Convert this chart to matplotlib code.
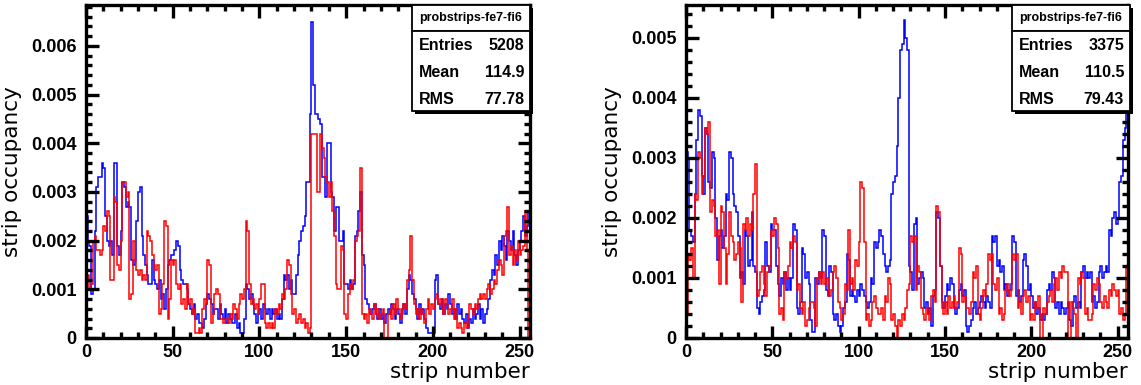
import numpy as np
import matplotlib
matplotlib.use('Agg')
import matplotlib.pyplot as plt
from matplotlib.patches import Rectangle
from matplotlib.ticker import MultipleLocator, FuncFormatter

# occupancy per strip, in units of 1e-4 (256 strips)
left_blue = [
    25, 20, 19, 9, 10, 22, 31, 33, 33, 36, 35, 25, 20, 19, 20, 17,
    36, 36, 19, 17, 22, 32, 31, 27, 28, 27, 16, 15, 16, 24, 30, 31,
    21, 17, 15, 13, 11, 11, 16, 12, 11, 10, 12, 8, 9, 6, 10, 15,
    16, 17, 17, 18, 20, 19, 14, 12, 11, 11, 10, 7, 6, 5, 7, 4,
    5, 3, 3, 2, 4, 7, 9, 8, 7, 5, 6, 6, 4, 7, 5, 4,
    6, 3, 5, 4, 3, 3, 5, 2, 3, 1, 1, 4, 11, 10, 8, 9,
    7, 5, 3, 5, 6, 4, 7, 6, 5, 6, 4, 6, 5, 6, 4, 5,
    4, 8, 13, 12, 13, 10, 12, 9, 9, 13, 17, 20, 22, 23, 25, 32,
    32, 46, 65, 52, 46, 46, 45, 44, 33, 33, 29, 40, 40, 30, 29, 22,
    27, 27, 20, 20, 22, 11, 11, 10, 12, 10, 11, 21, 22, 26, 30, 17,
    15, 8, 7, 6, 5, 6, 7, 5, 4, 6, 4, 5, 3, 5, 6, 5,
    7, 6, 4, 6, 5, 3, 6, 7, 5, 10, 13, 12, 9, 8, 6, 4,
    7, 5, 6, 4, 2, 1, 1, 1, 1, 12, 13, 7, 6, 8, 5, 7,
    6, 9, 7, 5, 6, 4, 7, 5, 6, 4, 3, 5, 2, 4, 3, 6,
    4, 5, 7, 4, 6, 3, 5, 6, 8, 12, 14, 13, 17, 15, 20, 18,
    21, 19, 16, 22, 20, 18, 22, 17, 15, 18, 20, 22, 25, 21, 23, 26,
]
left_red = [
    12, 13, 10, 11, 20, 21, 18, 18, 17, 18, 23, 22, 26, 25, 12, 12,
    29, 28, 15, 14, 20, 32, 32, 29, 30, 8, 9, 20, 16, 14, 13, 14,
    12, 13, 12, 22, 21, 20, 17, 15, 14, 15, 5, 6, 11, 24, 23, 4,
    8, 16, 15, 16, 11, 10, 11, 7, 8, 6, 11, 7, 8, 5, 6, 1,
    1, 2, 1, 6, 8, 7, 16, 15, 3, 5, 9, 10, 9, 4, 4, 3,
    4, 4, 3, 5, 4, 7, 6, 4, 7, 9, 8, 10, 24, 22, 11, 7,
    8, 6, 7, 5, 8, 11, 11, 3, 2, 3, 2, 3, 2, 6, 5, 7,
    6, 9, 8, 10, 16, 15, 9, 5, 6, 3, 4, 5, 3, 4, 2, 3,
    1, 2, 42, 42, 42, 30, 30, 42, 39, 37, 33, 32, 29, 32, 26, 21,
    11, 10, 10, 19, 18, 5, 4, 9, 11, 10, 12, 20, 21, 22, 35, 5,
    4, 5, 3, 6, 5, 4, 7, 5, 6, 4, 5, 6, 0, 0, 5, 6,
    4, 7, 5, 8, 6, 4, 5, 7, 6, 12, 14, 21, 12, 7, 5, 6,
    4, 6, 5, 3, 6, 8, 5, 7, 6, 8, 9, 7, 8, 6, 5, 8,
    7, 5, 6, 8, 4, 6, 2, 3, 2, 1, 3, 2, 4, 7, 6, 5,
    7, 6, 8, 9, 8, 9, 8, 10, 11, 9, 10, 12, 11, 14, 16, 15,
    13, 21, 22, 27, 17, 19, 15, 18, 16, 20, 17, 18, 19, 26, 18, 0,
]
right_blue = [
    31, 30, 18, 17, 16, 24, 33, 38, 37, 27, 24, 35, 34, 26, 25, 31,
    30, 20, 13, 17, 18, 15, 17, 24, 23, 31, 30, 24, 22, 21, 17, 10,
    11, 9, 18, 17, 12, 13, 21, 12, 11, 5, 4, 6, 7, 8, 16, 12,
    11, 19, 18, 18, 12, 9, 7, 10, 9, 11, 8, 10, 8, 10, 19, 18,
    5, 4, 6, 15, 14, 10, 11, 9, 3, 1, 1, 10, 9, 11, 10, 18,
    17, 8, 7, 12, 11, 4, 3, 4, 2, 1, 2, 5, 6, 14, 13, 7,
    8, 7, 6, 8, 7, 9, 8, 7, 6, 5, 6, 10, 9, 16, 15, 16,
    18, 17, 14, 12, 11, 12, 13, 24, 26, 27, 32, 40, 48, 49, 53, 50,
    48, 12, 11, 8, 19, 20, 9, 10, 11, 10, 5, 6, 4, 5, 2, 7,
    8, 21, 20, 12, 6, 5, 7, 9, 8, 10, 9, 5, 4, 5, 8, 9,
    7, 8, 2, 1, 2, 3, 5, 6, 4, 5, 6, 7, 6, 5, 7, 6,
    5, 17, 16, 17, 12, 13, 11, 12, 8, 9, 7, 8, 9, 17, 16, 7,
    8, 6, 7, 13, 14, 12, 8, 9, 7, 5, 6, 4, 5, 3, 4, 3,
    4, 8, 9, 8, 11, 10, 5, 6, 4, 6, 5, 4, 5, 6, 3, 2,
    6, 7, 5, 6, 5, 11, 12, 10, 11, 10, 11, 6, 7, 5, 6, 11,
    12, 10, 11, 12, 11, 18, 17, 20, 21, 19, 20, 26, 27, 33, 35, 38,
]
right_red = [
    4, 14, 13, 15, 10, 24, 23, 31, 30, 24, 27, 35, 34, 36, 21, 23,
    22, 17, 18, 9, 22, 21, 15, 9, 14, 21, 17, 16, 13, 14, 16, 15,
    6, 19, 18, 20, 17, 19, 18, 24, 29, 7, 8, 11, 12, 9, 7, 11,
    12, 18, 17, 20, 19, 15, 4, 5, 3, 11, 10, 12, 16, 15, 17, 16,
    8, 9, 5, 4, 6, 2, 3, 5, 6, 6, 5, 2, 10, 11, 9, 11,
    9, 10, 8, 7, 8, 11, 12, 10, 6, 5, 3, 4, 9, 8, 18, 9,
    10, 8, 13, 12, 16, 26, 25, 16, 3, 4, 2, 3, 6, 7, 5, 4,
    4, 5, 3, 7, 6, 10, 9, 3, 4, 2, 0, 3, 2, 4, 3, 5,
    8, 9, 17, 16, 17, 8, 12, 11, 5, 4, 3, 5, 4, 3, 7, 8,
    6, 22, 21, 12, 5, 4, 6, 4, 7, 5, 6, 7, 5, 6, 15, 14,
    6, 7, 5, 5, 4, 6, 11, 10, 12, 4, 3, 5, 8, 7, 9, 14,
    13, 14, 9, 8, 10, 4, 5, 3, 4, 8, 9, 7, 8, 14, 13, 14,
    5, 6, 4, 7, 8, 6, 7, 3, 4, 3, 6, 5, 7, 0, 0, 5,
    4, 6, 7, 8, 6, 9, 10, 8, 11, 10, 12, 11, 11, 0, 0, 6,
    5, 4, 0, 10, 9, 11, 10, 4, 5, 3, 3, 4, 9, 8, 10, 9,
    6, 5, 7, 6, 5, 8, 7, 9, 8, 7, 8, 4, 5, 3, 4, 12,
]

box_title = 'probstrips-fe7-fi6'
left_stats = [('Entries', '5208'), ('Mean', '114.9'), ('RMS', '77.78')]
right_stats = [('Entries', '3375'), ('Mean', '110.5'), ('RMS', '79.43')]

W, H = 1141, 385
edges = np.arange(257)
tick_font = dict(family='Liberation Sans', weight='bold', size=13)


def fx(x):
    return x / W


def fy(y):
    return 1 - y / H


def yfmt(v, pos):
    if abs(v) < 1e-9:
        return '0'
    return '%.3f' % v


def drawPanel(fig, x0, x1, ymax, blue, red):
    ax = fig.add_axes([fx(x0), fy(338), fx(x1 - x0), (338 - 5) / H])
    ax.stairs(np.array(blue) * 1e-4, edges, color='#0000ff', lw=1.1)
    ax.stairs(np.array(red) * 1e-4, edges, color='#ff0000', lw=1.1)
    ax.set_xlim(0, 256)
    ax.set_ylim(0, ymax)
    ax.xaxis.set_major_locator(MultipleLocator(50))
    ax.xaxis.set_minor_locator(MultipleLocator(10))
    ax.yaxis.set_major_locator(MultipleLocator(0.001))
    ax.yaxis.set_minor_locator(MultipleLocator(0.0002))
    ax.yaxis.set_major_formatter(FuncFormatter(yfmt))
    ax.tick_params(which='both', direction='in', top=True, right=True, width=2.4)
    ax.tick_params(which='major', length=9)
    ax.tick_params(which='minor', length=4.5)
    ax.tick_params(axis='y', which='major', pad=7)
    ax.tick_params(axis='x', which='major', pad=4)
    for lab in ax.get_xticklabels() + ax.get_yticklabels():
        lab.set_fontfamily(tick_font['family'])
        lab.set_fontweight(tick_font['weight'])
        lab.set_fontsize(tick_font['size'])
    for sp in ax.spines.values():
        sp.set_linewidth(2.4)
    ax.set_ylabel('strip occupancy', fontsize=15.5, labelpad=6)
    ax.set_xlabel('strip number', fontsize=15.5, loc='right', labelpad=1)
    return ax


def statBox(fig, x0, x1, stats):
    tr = fig.transFigure
    # shadow
    fig.add_artist(Rectangle((fx(x0 + 3), fy(114)), fx(x1 - x0), (114 - 8) / H,
                             facecolor='black', edgecolor='none', transform=tr))
    fig.add_artist(Rectangle((fx(x0), fy(31)), fx(x1 - x0), 26 / H,
                             facecolor='white', edgecolor='black', lw=1.3, transform=tr))
    fig.add_artist(Rectangle((fx(x0), fy(111)), fx(x1 - x0), 80 / H,
                             facecolor='white', edgecolor='black', lw=1.3, transform=tr))
    fig.text(fx((x0 + x1) / 2), fy(18), box_title, ha='center', va='center',
             family='Liberation Sans', weight='bold', fontsize=9)
    for i, (name, val) in enumerate(stats):
        yy = fy(46 + i * 26.5)
        fig.text(fx(x0 + 7), yy, name, ha='left', va='center',
                 family='Liberation Sans', weight='bold', fontsize=11.5)
        fig.text(fx(x1 - 6), yy, val, ha='right', va='center',
                 family='Liberation Sans', weight='bold', fontsize=11.5)


fig = plt.figure(figsize=(W / 100, H / 100), dpi=100)
drawPanel(fig, 86, 530, 0.00684, left_blue, left_red)
drawPanel(fig, 686, 1128, 0.00555, right_blue, right_red)
statBox(fig, 412, 530, left_stats)
statBox(fig, 1012, 1130, right_stats)
fig.savefig('out.png', dpi=100)
